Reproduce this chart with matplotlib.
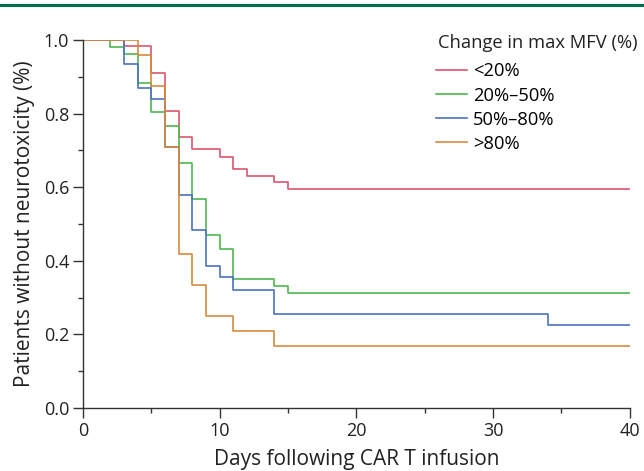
import matplotlib.pyplot as plt
from matplotlib.lines import Line2D
from matplotlib.ticker import MultipleLocator

plt.rcParams['font.family'] = ['Open Sans', 'DejaVu Sans']

# Kaplan-Meier steps (days, fraction without neurotoxicity)
t_lt20 = [0, 3, 5, 6, 7, 8, 10, 11, 12, 14, 15, 40]
s_lt20 = [1.0, 0.984, 0.911, 0.808, 0.736, 0.703, 0.683, 0.650, 0.631, 0.613, 0.596, 0.596]

t_20_50 = [0, 2, 3, 4, 5, 6, 7, 8, 9, 10, 11, 14, 15, 40]
s_20_50 = [1.0, 0.982, 0.961, 0.884, 0.804, 0.765, 0.665, 0.567, 0.469, 0.431, 0.351, 0.332, 0.312, 0.312]

t_50_80 = [0, 3, 4, 5, 6, 7, 8, 9, 10, 11, 14, 34, 40]
s_50_80 = [1.0, 0.936, 0.870, 0.839, 0.710, 0.580, 0.483, 0.386, 0.355, 0.321, 0.256, 0.224, 0.224]

t_gt80 = [0, 4, 5, 6, 7, 8, 9, 11, 14, 40]
s_gt80 = [1.0, 0.958, 0.875, 0.708, 0.417, 0.333, 0.250, 0.208, 0.167, 0.167]

labels = ['<20%', '20%\u201350%', '50%\u201380%', '>80%']
colors = ['#d9566e', '#4fb850', '#4d72c4', '#d88a3c']

fig = plt.figure(figsize=(6.44, 4.71), dpi=100)
ax = fig.add_axes([0.129, 0.134, 0.849, 0.781])

series = [(t_lt20, s_lt20), (t_20_50, s_20_50), (t_50_80, s_50_80), (t_gt80, s_gt80)]
for (t, s), lab, c in zip(series, labels, colors):
    ax.step(t, s, where='post', color=c, lw=1.2, label=lab)

ax.set_xlim(0, 40)
ax.set_ylim(0, 1.0)
ax.set_xticks([0, 10, 20, 30, 40])
ax.set_yticks([0.0, 0.2, 0.4, 0.6, 0.8, 1.0])
ax.set_yticklabels(['0.0', '0.2', '0.4', '0.6', '0.8', '1.0'])
ax.xaxis.set_minor_locator(MultipleLocator(5))
ax.yaxis.set_minor_locator(MultipleLocator(0.1))
ax.tick_params(which='major', length=7, width=1, color='#333333', labelsize=13, labelcolor='#222222', pad=3)
ax.tick_params(which='minor', length=3.5, width=1, color='#333333')
ax.spines['top'].set_visible(False)
ax.spines['right'].set_visible(False)
for sp in ['left', 'bottom']:
    ax.spines[sp].set_color('#333333')
    ax.spines[sp].set_linewidth(1)

ax.set_xlabel('Days following CAR T infusion', fontsize=15, color='#222222', labelpad=7)
ax.set_ylabel('Patients without neurotoxicity (%)', fontsize=15, color='#222222', labelpad=6)

# legend title drawn separately so the gap to the entries matches
ax.text(0.649, 0.992, 'Change in max MFV (%)', transform=ax.transAxes, fontsize=13.2,
        color='#222222', ha='left', va='center')
leg = ax.legend(loc='upper left', bbox_to_anchor=(0.645, 0.939), frameon=False,
                borderaxespad=0, borderpad=0, fontsize=13.2,
                handlelength=1.7, handletextpad=0.35, labelspacing=0.33)
for line in leg.get_lines():
    line.set_linewidth(1.2)

# green rule across the top of the figure
fig.add_artist(Line2D([0, 1], [1 - 4.5 / 471, 1 - 4.5 / 471], color='#00704a', lw=2.2,
                      transform=fig.transFigure))

fig.savefig('out.png', dpi=100)
